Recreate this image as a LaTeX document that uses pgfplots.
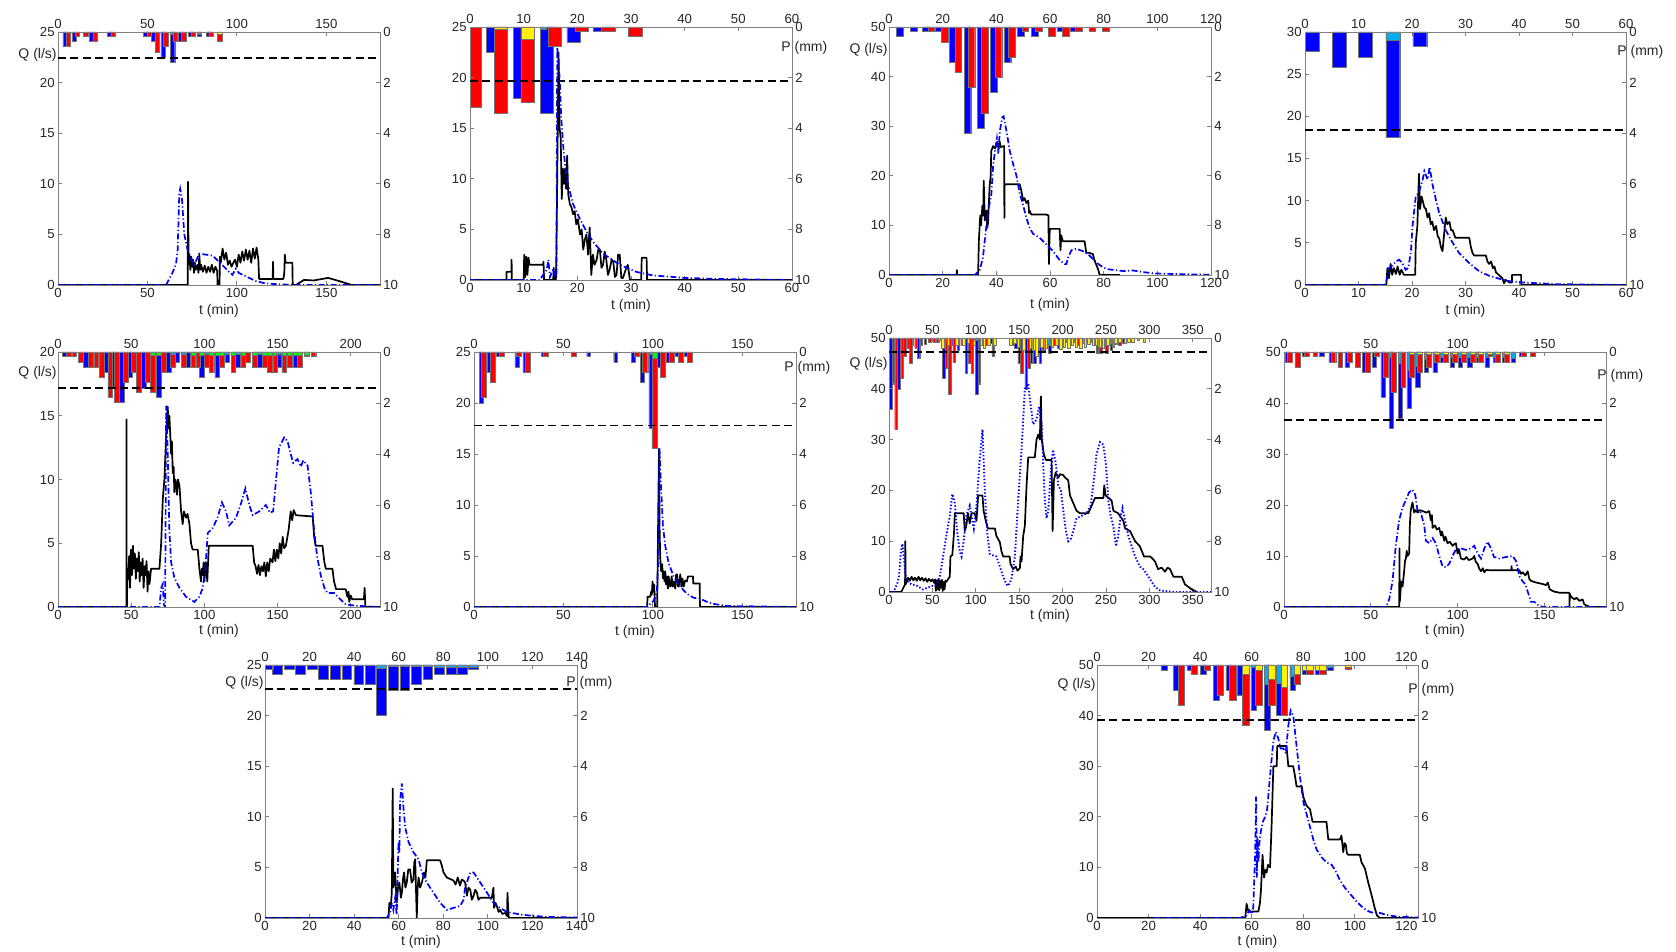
\documentclass[border=0pt]{standalone}
\usepackage{fontspec}
\setmainfont{Liberation Sans}
\usepackage{pgfplots}
\pgfplotsset{compat=1.18}
\pgfplotsset{
  base/.style={scale only axis, anchor=south west,
    axis line style={black!50, line width=0.4pt},
    tick style={black!50, line width=0.4pt}, major tick length=2pt, tick align=inside,
    ticklabel style={font=\fontsize{6.6}{7}\selectfont, text=black!85},
    /pgf/number format/assume math mode=true, scaled ticks=false,
    clip mode=individual, ymin=0,
    xticklabel style={inner sep=1.5pt}, yticklabel style={inner sep=1.5pt}},
  qaxis/.style={base, xtick pos=left, ytick pos=left},
  paxis/.style={base, xtick pos=right, ytick pos=right, ymax=10, y dir=reverse, ytick={0,2,...,10}},
  pb/.style={ybar, bar shift=0pt, draw=black!55, line width=0.2pt, forget plot},
  obs/.style={black, line width=0.85pt, line join=round},
  sim/.style={blue, line width=0.85pt, dash pattern=on 3pt off 1.2pt on 0.6pt off 1.2pt},
  simdot/.style={blue, line width=0.95pt, dash pattern=on 0.7pt off 1pt},
  dline/.style={black, line width=0.85pt, dash pattern=on 4pt off 2.2pt},
}
\tikzset{
  qlab/.style={anchor=east, font=\fontsize{7}{8}\selectfont, text=black!85, inner sep=0.5pt},
  plab/.style={anchor=west, font=\fontsize{7}{8}\selectfont, text=black!85, inner sep=0.5pt},
  tlab/.style={anchor=center, yshift=-13pt, font=\fontsize{7}{8}\selectfont, text=black!85},
}
\begin{document}
\begin{tikzpicture}
\useasboundingbox (0,0) rectangle (838pt,476pt);

% ================= Panel 1 =================
\begin{axis}[paxis, at={(29pt,333.5pt)}, width=161pt, height=126.5pt, xmin=0, xmax=180, xtick={0,50,100,150}]
\addplot[pb, fill=blue, bar width=2.5] coordinates {(4,0.57) (9,0.37) (18.7,0.37) (28.8,0.15) (49,0.15) (53.6,0.37) (58.8,1.0) (64,1.18) (68.7,0.37) (74,0.15) (79,0.15) (84,0.15)};
\addplot[pb, fill=red, bar width=2.5] coordinates {(5.8,0.57) (10.8,0.15) (15.5,0.15) (20.8,0.37) (30.8,0.15) (51,0.15) (55.5,0.79) (60.3,0.57) (65.5,0.37) (70.3,0.37) (75.5,0.15) (85.5,0.15) (90.3,0.37)};
\addplot[pb, fill=cyan, bar width=1.5] coordinates {(63.5,0.1) (79,0.1)};
\addplot[pb, fill=yellow, bar width=2.5] coordinates {(90.3,0.08)};
\end{axis}
\begin{axis}[qaxis, at={(29pt,333.5pt)}, width=161pt, height=126.5pt, xmin=0, xmax=180, ymax=25, xtick={0,50,100,150}, ytick={0,5,...,25}]
\addplot[dline] coordinates {(0,22.4) (180,22.4)};
\addplot[obs] coordinates {(0,0) (72.5,0) (72.7,10.2) (73,2) (73.5,3) (74,1.5) (74.5,2.8) (75,1.8) (75.5,2.5) (76,1.2) (76.5,2.2) (77,1.5) (78,2) (78.5,1.2) (79,3) (79.5,1.5) (80,2.0) (81,1.3) (82,1.9) (83,1.2) (84,1.8) (85,1.3) (86,2) (87,1.2) (88,1.8) (89,1.4) (89.2,0) (90.3,0) (90.5,2.8) (91,2.2) (92,3.6) (93,2.5) (94,3.2) (95,2) (96,2.4) (97,1.8) (98,2.2) (99,2.5) (100,1.8) (101,3) (102,2.2) (103,3.3) (104,2.4) (105,3.5) (106,2.5) (107,3.4) (108,2.2) (109,3.6) (110,2.6) (111,3.7) (112,2.5) (112.4,0.6) (120,0.6) (120.2,2.3) (120.4,0.6) (126,0.6) (126.5,1.2) (126.8,3) (127.2,2.2) (131,2.2) (131.2,0) (133,0) (137.5,0.5) (143,0.45) (151,0.7) (155,0.5) (160.6,0.2) (164.3,0) (180,0)};
\addplot[sim] coordinates {(0,0) (60.4,0) (62.2,0.6) (64,1.2) (66,2.1) (66.9,3.5) (67.8,9.0) (68.3,9.5) (69.3,8.5) (70.6,5) (72.4,3.5) (74.3,2.6) (76,2.0) (77.5,2.5) (78.9,3.1) (86.4,2.9) (90,2.3) (95.6,1.3) (97.5,1.0) (99.4,1.6) (101,1.2) (106.8,0.7) (110.5,0.4) (116,0.15) (125,0.05) (135,0) (180,0)};
\node[qlab] at (rel axis cs:0,0.909) {Q (l/s)};
\node[tlab] at (rel axis cs:0.5,0) {t (min)};
\end{axis}

% ================= Panel 2 =================
\begin{axis}[paxis, at={(235pt,336pt)}, width=161pt, height=126.5pt, xmin=0, xmax=60, xtick={0,10,...,60}]
\addplot[pb, fill=blue, bar width=1.4] coordinates {(3.8,0.99) (8.8,2.8)};
\addplot[pb, fill=blue, bar width=1.5] coordinates {(23.75,0.17)};
\addplot[pb, fill=blue, bar width=2.5] coordinates {(14.3,3.4) (19.3,0.59)};
\addplot[pb, fill=cyan, bar width=1.2] coordinates {(13.6,0.07)};
\addplot[pb, fill=red, bar width=2] coordinates {(1,3.18)};
\addplot[pb, fill=red, bar width=2.5] coordinates {(5.75,3.4) (10.75,2.99) (15.8,0.76) (20.8,0.17) (25.75,0.17) (30.8,0.36)};
\addplot[pb, fill=yellow, bar width=2.5] coordinates {(5.75,0.1) (10.75,0.49)};
\end{axis}
\begin{axis}[qaxis, at={(235pt,336pt)}, width=161pt, height=126.5pt, xmin=0, xmax=60, ymax=25, xtick={0,10,...,60}, ytick={0,5,...,25}]
\addplot[dline] coordinates {(0,19.67) (60,19.67)};
\addplot[obs] coordinates {(0,0) (6.8,0) (6.8,0.8) (7.7,0.8) (7.75,2) (7.8,0) (10,0) (10.1,2.5) (10.3,0.3) (10.5,2.3) (10.7,0.5) (10.9,2.2) (11.1,1.5) (13.6,1.5) (13.7,1.8) (13.8,0) (15.5,0) (15.6,1.2) (15.7,0) (16,0) (16.1,2.5) (16.5,22.5) (16.7,15) (16.9,14) (17.1,8) (17.3,11) (17.5,9.5) (17.7,11) (17.9,9) (18.1,12.3) (18.3,8.5) (18.6,7.5) (18.9,7.2) (19.2,6.5) (19.5,6.8) (19.8,5.5) (20.1,6) (20.5,4.5) (20.8,5) (21.1,3.0) (21.4,4) (21.7,4.5) (22,2.5) (22.3,5.2) (22.6,0.5) (22.9,2.5) (23.2,1.5) (23.6,2.0) (23.9,3) (24.2,3.0) (24.5,1.2) (24.8,1.5) (25.1,2.8) (25.4,2.0) (25.7,0.5) (26,1.0) (26.4,2.0) (26.7,1.8) (27,0.3) (27.3,0.5) (27.6,2.5) (27.9,2.5) (28.2,0.2) (28.5,0.2) (29,1.0) (29.4,1.5) (29.8,0) (31.9,0) (32,2.2) (32.9,2.2) (33,0) (60,0)};
\addplot[sim] coordinates {(0,0) (13,0) (13.6,0.5) (14.3,1.0) (14.6,2.0) (14.9,0.3) (15.5,1.1) (15.8,0.2) (16.1,0.3) (16.25,23) (16.7,20) (17,16) (17.4,13) (18,10) (19.2,7.5) (20.5,6) (21.7,4.8) (22.9,3.8) (24.8,2.6) (27.9,1.5) (31,0.8) (34.1,0.45) (40.3,0.2) (46.5,0.1) (60,0)};
\node[plab, xshift=-6pt] at (rel axis cs:1,0.917) {P (mm)};
\node[tlab] at (rel axis cs:0.5,0) {t (min)};
\end{axis}

% ================= Panel 3 =================
\begin{axis}[paxis, at={(444.5pt,338.5pt)}, width=161pt, height=124pt, xmin=0, xmax=120, xtick={0,20,...,120}]
\addplot[pb, fill=blue, bar width=2.5] coordinates {(3.9,0.36) (9.2,0.17) (13.7,0.17) (18.6,0.17) (23.7,1.41) (29.2,4.27) (34.2,4.07) (39.1,2.63) (44.1,1.41) (49.1,0.36) (54.2,0.36) (63.8,0.17) (68.9,0.17)};
\addplot[pb, fill=red, bar width=2.5] coordinates {(15.75,0.17) (20.75,0.6) (25.75,1.81) (30.7,2.44) (35.75,3.46) (40.75,2.04) (45.75,1.21) (50.7,0.17) (55.75,0.17) (60.75,0.36) (65.75,0.36) (70.75,0.17) (75.75,0.17) (80.75,0.17)};
\end{axis}
\begin{axis}[qaxis, at={(444.5pt,338.5pt)}, width=161pt, height=124pt, xmin=0, xmax=120, ymax=50, xtick={0,20,...,120}, ytick={0,10,...,50}]
\addplot[obs] coordinates {(0,0) (25.2,0) (25.3,1) (25.4,0) (33.2,0) (33.5,7) (34,12) (34.3,10) (34.8,14) (35.1,12) (35.3,19) (35.7,11) (36.3,13) (36.6,9.5) (36.9,10.5) (37.5,18) (37.9,20) (38.1,25) (38.8,26) (39.5,25.5) (40.3,26.5) (40.9,25.5) (41.2,27) (41.6,25.8) (42.9,26) (43,11.5) (43.1,18.3) (48.7,18.3) (49.3,17) (50,15) (50.5,15.5) (51.2,14.5) (51.9,15) (52.2,12.5) (52.4,13) (53,12.2) (58.6,12.2) (59.4,12) (59.6,2.2) (59.9,9.3) (63.6,9.3) (63.9,5) (64.2,8) (64.8,6.8) (72.9,6.8) (73.5,4.5) (74.5,4.5) (76,4.2) (76.5,3) (77.3,2) (78,1) (78.5,0) (86,0)};
\addplot[sim] coordinates {(0,0) (32,0) (33.8,1) (35,3.5) (36.3,10) (36.9,13) (38.1,16) (38.8,22) (39.6,25.5) (40.2,27.5) (40.7,24.5) (41.3,29) (42.2,31.8) (42.7,32) (43.8,29) (45,25) (46.2,22.5) (47.5,20) (48.7,16.5) (50,14) (51.2,11.5) (52.4,9.5) (53.7,8.3) (56.1,7.5) (58.6,6.2) (61.1,4.8) (63.6,3.0) (65.5,2.2) (66.1,2.2) (66.7,3.5) (68,5.0) (69.8,5.3) (72.3,4.8) (74.2,4.2) (76,3.2) (78.5,2.0) (81,1.2) (87.2,0.8) (91,0.9) (95.9,0.5) (99.6,0.3) (105.8,0.2) (120,0.05)};
\node[qlab] at (rel axis cs:0,0.907) {Q (l/s)};
\node[tlab, yshift=-2pt] at (rel axis cs:0.5,0) {t (min)};
\end{axis}

% ================= Panel 4 =================
\begin{axis}[paxis, at={(652.5pt,333.5pt)}, width=160.5pt, height=126.5pt, xmin=0, xmax=60, xtick={0,10,...,60}]
\addplot[pb, fill=blue, bar width=2.6] coordinates {(1.3,0.76) (6.4,1.38) (11.3,0.99) (16.4,4.17) (21.45,0.57)};
\addplot[pb, fill=cyan, bar width=2.6] coordinates {(16.4,0.33)};
\end{axis}
\begin{axis}[qaxis, at={(652.5pt,333.5pt)}, width=160.5pt, height=126.5pt, xmin=0, xmax=60, ymax=30, xtick={0,10,...,60}, ytick={0,5,...,30}]
\addplot[dline] coordinates {(0,18.36) (60,18.36)};
\addplot[obs] coordinates {(0,0) (15.2,0) (15.4,2) (15.7,0.8) (16,2.5) (16.3,1.2) (16.6,2) (17,1.3) (17.3,2.2) (17.7,1.2) (18,1.8) (18.5,1.2) (20.6,1.2) (20.7,5) (21,7) (21.3,13.2) (21.5,9) (21.8,10.5) (22,10) (22.3,9.2) (22.6,9) (22.9,8) (23.2,8.5) (23.5,7.2) (23.8,7.5) (24.1,6.5) (24.5,7) (24.8,5.8) (25.1,5.5) (25.4,4.5) (25.7,4) (26,6) (26.3,8) (26.6,7.2) (27,7.5) (27.3,6.5) (27.6,6.5) (28.1,5.6) (30.7,5.6) (31,4.5) (31.3,3.8) (31.6,3.5) (33.8,3.5) (34.1,2.8) (34.4,2.5) (34.8,2.8) (35.1,2) (35.4,2.2) (35.7,1.5) (36.2,1.2) (36.9,0.8) (37.2,0.2) (37.5,0.6) (38.2,0.3) (38.7,0.3) (38.7,1.2) (40.4,1.2) (40.4,0) (60,0)};
\addplot[sim] coordinates {(0,0) (15,0) (15.4,1.0) (15.7,2.0) (16.3,2.3) (17,2.8) (17.6,3.0) (18.2,2.6) (18.8,1.8) (19.3,2.0) (19.8,4) (20.1,7) (20.7,10.5) (21.3,11) (22,12.5) (22.3,13.5) (22.6,13) (22.9,12.5) (23.3,14) (23.8,12) (24.5,10) (25.1,8.5) (26.3,6.5) (27.6,5) (28.8,3.8) (30.7,2.6) (32.6,1.6) (34.4,1.1) (37.6,0.5) (40.7,0.3) (46.9,0.1) (60,0)};
\node[plab, xshift=-5pt] at (rel axis cs:1,0.921) {P (mm)};
\node[tlab] at (rel axis cs:0.5,0) {t (min)};
\end{axis}

% ================= Panel 5 =================
\begin{axis}[paxis, at={(29pt,172.5pt)}, width=161pt, height=127.5pt, xmin=0, xmax=220, xtick={0,50,...,200}]
\addplot[pb, fill=blue, bar width=3.2] coordinates {(4.5,0.17) (19,0.59) (33,0.79) (38.6,1.42) (43.7,1.98) (49,1.0) (58.4,1.42) (68.7,1.78) (75.5,0.79) (81.5,0.39) (89,0.59) (98.3,1.0) (108.8,1.0) (115.5,0.39) (123,0.59) (138,0.59) (151,0.59) (162,0.59) (170,0.17)};
\addplot[pb, fill=red, bar width=3.2] coordinates {(7.5,0.17) (11,0.17) (15.5,0.39) (22.5,0.59) (26,0.59) (29.8,1.0) (35.7,1.78) (40.3,1.98) (46.2,1.18) (51.7,0.79) (55,1.59) (61.2,1.18) (64.7,1.59) (72.2,0.79) (78.5,0.59) (85.7,0.59) (92.5,0.59) (95.3,0.59) (101.7,0.59) (104.8,0.79) (112,0.59) (119.8,0.79) (126.5,0.59) (129.5,0.39) (134.5,0.59) (141.3,0.59) (144.8,0.79) (148.3,0.79) (154.5,0.79) (158.3,0.59) (165.3,0.59) (174.5,0.17)};
\addplot[pb, fill=green, bar width=3.2] coordinates {(64.7,0.12) (68.7,0.12) (92.5,0.12) (98.3,0.12) (104.8,0.12) (108.8,0.12) (112,0.12) (119.8,0.12) (126.5,0.12) (134.5,0.12) (141.3,0.12) (144.8,0.12) (148.3,0.12) (154.5,0.12) (158.3,0.12) (162,0.12) (165.3,0.12) (170,0.12)};
\addplot[pb, fill=cyan, bar width=3.2] coordinates {(78.5,0.1) (85.7,0.1) (101.7,0.1) (115.5,0.1) (123,0.1) (138,0.1) (151,0.1)};
\end{axis}
\begin{axis}[qaxis, at={(29pt,172.5pt)}, width=161pt, height=127.5pt, xmin=0, xmax=220, ymax=20, xtick={0,50,...,200}, ytick={0,5,...,20}]
\addplot[dline] coordinates {(0,17.17) (220,17.17)};
\addplot[obs] coordinates {(0,0) (46.7,0) (46.8,14.7) (46.9,0) (47.2,0) (47.3,3) (48,2.2) (48.6,4) (49.2,1.5) (49.8,4.5) (50.5,2.5) (51.2,4.8) (51.8,3) (52.5,4.2) (53.2,2.2) (53.8,3.8) (54.5,2.8) (55.2,4.3) (55.8,2) (56.5,3.5) (57.2,2.5) (57.8,3.8) (58.5,1.5) (59.2,3.2) (59.8,2.5) (60.5,3.6) (61.2,1.2) (61.8,2.8) (62.5,1.8) (63.6,3) (69.3,3) (70.5,5) (71.6,8.5) (72.7,10) (73.9,13.5) (75,15.7) (75.5,14) (76.1,15) (76.7,13.5) (77.3,12) (77.8,13) (78.4,10.5) (79,11) (79.5,9) (80.1,10) (80.7,9.8) (81.3,8.8) (82,10) (83,9.5) (84.1,7.5) (85.2,6.5) (86,7.5) (87.5,7) (88.5,7.3) (89.8,6.5) (90.9,5) (92,4.5) (95.5,4.5) (96.6,3) (97.7,2) (98.3,3) (98.9,2.5) (99.5,3.5) (100,2.0) (101,3.5) (102,2) (103,4.8) (133,4.8) (134,3.5) (135,3.2) (136,2.6) (137,3.3) (138,2.5) (139,3.2) (140,2.8) (141,3.5) (142,2.4) (143,3.5) (144,2.8) (145,3.8) (146.6,3.5) (147.5,4.5) (148.5,3.6) (149.5,4.5) (150.5,3.8) (151.5,5) (152.5,4.2) (153.5,5.5) (154.5,4.6) (155.7,4.8) (157.5,6) (159,7.5) (160,6.8) (161,7.6) (162.5,7.2) (174,7.1) (175,5.5) (176,4.8) (180.7,4.8) (182,3.5) (183,3) (187.5,3) (188.6,2) (190,1.4) (196.6,1.4) (197.7,0.8) (198.5,1.2) (199,0.4) (200,0.9) (201,0.6) (209,0.6) (209.5,1.5) (210,0) (220,0)};
\addplot[sim] coordinates {(0,0) (69.3,0) (70.5,1.5) (71.6,1.8) (72.3,0.2) (73.2,0) (73.9,15.8) (75,12) (76.1,6) (77.3,3.5) (79.5,2.3) (83,1.5) (87.5,0.8) (93.2,0.4) (96.6,0.8) (98.9,1.5) (100.7,3) (102.3,5.8) (105.7,6.2) (109,7) (112,8.2) (114.8,7.5) (117,6.4) (121.6,7) (125,8.1) (128,9.3) (130.7,8) (133,7.2) (137.5,7.5) (142,8) (144.8,7.4) (147,7.5) (149,10) (151,12.5) (154.5,13.3) (156.8,13) (159,12) (160.7,11.3) (163.6,11.6) (166,11) (167.5,11.5) (170.5,11.1) (172.7,9) (175,6) (177,4) (179.5,2.5) (182,1.5) (184,1.1) (188.6,1.1) (192,0.7) (196.6,0.2) (203.4,0.1) (220,0)};
\node[qlab] at (rel axis cs:0,0.918) {Q (l/s)};
\node[tlab, yshift=1pt] at (rel axis cs:0.5,0) {t (min)};
\end{axis}

% ================= Panel 6 =================
\begin{axis}[paxis, at={(237pt,172.5pt)}, width=161pt, height=127.5pt, xmin=0, xmax=180, xtick={0,50,100,150}]
\addplot[pb, fill=blue, bar width=2.2] coordinates {(3.9,2.0) (8.55,0.79) (13.65,0.17) (24,0.59) (28.4,0.79) (38.7,0.17) (64.1,0.17) (79.2,0.39) (88.9,0.39) (94.1,1.18) (98.8,2.99) (103.35,0.59) (108.8,0.39) (113.55,0.17) (118.85,0.17)};
\addplot[pb, fill=red, bar width=2.8] coordinates {(5.5,1.78) (10.65,1.18) (15.6,0.17) (25.25,0.17) (30.1,0.79) (40.3,0.17) (55.8,0.17) (90.75,0.17) (95.7,0.79) (100.8,3.78) (105.7,1.0) (110.4,0.39) (115.8,0.39) (120.6,0.39)};
\addplot[pb, fill=cyan, bar width=2] coordinates {(98.8,0.08)};
\addplot[pb, fill=green, bar width=2.8] coordinates {(100.8,0.26)};
\end{axis}
\begin{axis}[qaxis, at={(237pt,172.5pt)}, width=161pt, height=127.5pt, xmin=0, xmax=180, ymax=25, xtick={0,50,100,150}, ytick={0,5,...,25}]
\addplot[dline] coordinates {(0,17.8) (180,17.8)};
\addplot[obs] coordinates {(0,0) (96.8,0) (97,1) (98.5,1) (99,1.5) (99.4,1.2) (99.8,2.5) (100.2,1.5) (100.7,2.2) (101.2,0) (102.4,0) (102.6,3) (103,9.5) (103.4,15.5) (103.8,7) (104.2,4.5) (104.6,3.5) (105.2,4.2) (105.6,2.8) (106,3.5) (106.5,2.5) (106.9,3.5) (107.4,2.2) (107.9,3.0) (108.4,1.8) (108.8,3.0) (109.3,2.2) (109.7,2.0) (110.5,3) (111,2) (111.6,2.5) (112.5,1.8) (113,3.2) (113.5,3.2) (114,2) (114.4,2) (115.3,3.2) (116,2) (116.5,2.8) (117.2,2.0) (118,2.6) (119,2.5) (119.6,3) (122.4,3) (122.6,2.3) (126.2,2.3) (126.3,0) (180,0)};
\addplot[sim] coordinates {(0,0) (96.6,0) (98.5,0.3) (100.4,0.6) (102.2,1.5) (103.2,5) (103.7,15.6) (104.5,12) (105.6,8) (106.9,6) (108.8,4.3) (111.6,3) (115.3,2) (119,1.3) (122.8,0.9) (126.5,0.8) (130.3,0.5) (134,0.3) (141.5,0.1) (180,0)};
\node[plab, xshift=-6.5pt] at (rel axis cs:1,0.937) {P (mm)};
\node[tlab, yshift=0.5pt] at (rel axis cs:0.5,0) {t (min)};
\end{axis}

% ================= Panel 7 =================
\begin{axis}[paxis, at={(444.5pt,180pt)}, width=161pt, height=127pt, xmin=0, xmax=371, xtick={0,50,...,350}]
\addplot[pb, fill=blue, bar width=2.8] coordinates {(2,2.8) (11,2.0) (27,0.3) (34,0.8) (42,0.25) (63,1.6) (72,0.3) (80,0.5) (89,1.4) (101,2.2) (108,0.3) (118,0.2) (146,0.4) (150,1.0) (158,2.0) (164,1.0) (168,1.0) (174,1.0) (185,0.6) (195,0.4) (205,0.15) (222,0.2) (248,0.35) (256,0.5) (270,0.2)};
\addplot[pb, fill=red, bar width=2.8] coordinates {(5,1.8) (8,3.6) (15,1.6) (18,0.7) (22,0.4) (25,1.0) (31,0.4) (37,0.3) (47,0.15) (52,0.15) (56,0.15) (66,1.2) (70,2.2) (75,0.96) (84,0.3) (93,1.0) (96,1.4) (104,1.8) (112,0.3) (120,0.7) (143,0.3) (153,1.4) (161,1.2) (171,0.5) (178,0.5) (190,0.3) (212,0.15) (218,0.3) (232,0.15) (240,0.6) (244,0.6) (251,0.6) (262,0.25) (266,0.3)};
\addplot[pb, fill=yellow, bar width=2.8] coordinates {(58,0.1) (62,0.4) (68,0.3) (78,0.3) (86,0.3) (91,0.2) (98,0.3) (106,0.3) (110,0.4) (115,0.3) (122,0.3) (140,0.3) (145,0.2) (149,0.35) (155,0.5) (163,0.4) (167,0.5) (170,0.7) (176,0.35) (181,0.4) (188,0.35) (193,0.3) (198,0.45) (202,0.35) (207,0.4) (211,0.3) (216,0.35) (221,0.4) (226,0.35) (230,0.25) (235,0.3) (239,0.3) (243,0.35) (247,0.4) (252,0.3) (257,0.2) (261,0.2) (266,0.15) (272,0.2) (276,0.15) (281,0.15) (287,0.1) (294,0.15)};
\addplot[pb, fill=cyan, bar width=2.8] coordinates {(184,0.3) (258,0.35) (100,0.1)};
\end{axis}
\begin{axis}[qaxis, at={(444.5pt,180pt)}, width=161pt, height=127pt, xmin=0, xmax=371, ymax=50, xtick={0,50,...,350}, ytick={0,10,...,50}]
\addplot[dline] coordinates {(0,47.2) (371,47.2)};
\addplot[obs] coordinates {(0,0) (14,0) (15,0.3) (17,1) (18.5,1.5) (18.8,10) (19.2,1.5) (20,2) (22,2.8) (24,2.2) (26,3) (28,2.3) (30,2.8) (32,2.2) (34,3) (36,2.3) (38,2.8) (40,2.2) (42,2.7) (44,2.0) (46,2.6) (48,2.1) (50,2.5) (52,1.8) (53,2.5) (54,0.2) (55,2.3) (56,0.5) (57,2.6) (58,0.3) (59,2.2) (60,0.8) (61,2.4) (62,0.2) (63,2) (64,0.5) (65,2.2) (66,2) (70,3) (70.8,7) (73,7.3) (75,12) (75.8,15.5) (86,15.5) (87.3,12) (89,13) (91,15.5) (93,13.5) (95,15.5) (98.8,15.5) (100.8,14) (102.7,19) (107.7,19) (109,16) (111.5,14) (114,12.5) (122,12.5) (123.8,11) (127.7,9.8) (129.6,8) (131.5,7) (139,7) (140,5.5) (143,4.5) (146,5) (148,4.2) (150.8,4.7) (151.5,7) (152.7,6) (154.6,11) (156.5,13) (158.5,21) (160.4,26.5) (168,26.5) (170,30) (172,31) (173.8,30) (175,38.5) (176,30) (178.5,27) (180.8,26) (187.3,26) (188.5,12) (190,22) (192,23.5) (195,22.5) (197,23.2) (200.8,23) (203,22.5) (206.5,22) (208.5,19) (212.3,17.5) (216,16) (220,15.5) (229.6,15.5) (233.5,17) (237.3,18.5) (247,18.5) (248,21) (249.6,19) (253,18.5) (256.5,18) (258.5,16) (264,15.5) (270,14) (272,12.5) (277.7,12) (283.5,10) (289,9) (293.8,7) (300.8,7) (304,6.5) (306.5,6) (310,4.5) (314,4.8) (318,4) (321,4.8) (323.8,4.5) (327.7,3) (337.3,3) (341,1.5) (345,1.0) (348.8,0.5) (352.7,0.2) (355,0)};
\addplot[simdot] coordinates {(0,0) (5,0) (6.5,0.5) (9.2,1.5) (11.5,3) (13.5,7.5) (15.4,9.5) (17,7) (19.2,3) (22,2) (25.8,1.5) (31.5,1.3) (39,0.5) (47,1.0) (54.6,1.5) (58.5,3) (62.3,7) (66,11) (70,15) (73,19.3) (75.8,17.5) (78.5,12) (81.5,8) (83.5,7) (86,10) (89,15) (93,17) (95,15) (97.7,12.5) (100.8,17) (104,25) (107.7,32) (110.4,20) (113,12) (116,7.5) (120,7.2) (123.8,7) (127.7,5) (131.5,3) (135.4,1.5) (137.3,1.2) (141,2.5) (145,7) (148.8,18) (152.7,28) (156.5,40) (160.4,41) (162.3,38) (166,33) (170,34) (173,36.5) (175.8,33) (177.7,25) (179.6,18) (181.5,14.5) (183.5,16) (186.5,24) (189,28) (192,25.5) (195,21) (198,20) (200.8,16) (203.8,12) (206.5,10) (209.6,10.5) (212.3,12) (216,14.5) (222,15) (227.7,15.5) (232.3,17) (236,22) (239,27) (243,29.5) (247,29) (250,25) (252.7,18) (255.4,15) (258.5,13) (261.5,9) (264,11) (267,15) (269,16.5) (272,14) (275.8,11) (279.6,9) (283.5,7) (289,5) (293,4.5) (297,3.5) (302.7,2) (306.5,1) (312.3,0.3) (327.7,0) (371,0)};
\node[qlab] at (rel axis cs:0,0.90) {Q (l/s)};
\node[tlab, yshift=1pt] at (rel axis cs:0.5,0) {t (min)};
\end{axis}

% ================= Panel 8 =================
\begin{axis}[paxis, at={(642pt,172.5pt)}, width=161pt, height=127.5pt, xmin=0, xmax=185.5, xtick={0,50,100,150}]
\addplot[pb, fill=blue, bar width=2.5] coordinates {(1.75,0.39) (11.5,0.17) (21.8,0.17) (27.1,0.39) (36.3,0.59) (46.3,0.79) (51.9,0.59) (57,1.78) (61.8,2.99) (67,2.6) (72,2.2) (77,1.39) (82,0.79) (87,0.79) (91.5,0.39) (96.8,0.59) (101.6,0.59) (107,0.59) (111.7,0.39) (117,0.59) (122,0.39) (127.1,0.39) (132,0.39) (137,0.17)};
\addplot[pb, fill=cyan, bar width=2.5] coordinates {(61.8,0.2) (67,0.43) (72,0.7) (77,0.56) (82,0.3) (87,0.25) (91.5,0.2) (96.8,0.2) (101.6,0.2) (107,0.2) (111.7,0.2) (117,0.2) (122,0.2) (127.1,0.2) (132,0.24)};
\addplot[pb, fill=red, bar width=2.8] coordinates {(3.3,0.39) (7.7,0.59) (13.3,0.17) (18,0.17) (28.4,0.39) (32.4,0.59) (38,0.39) (42.5,0.59) (48,0.79) (53.5,0.17) (58.5,1.0) (63,1.59) (68.7,1.39) (73.5,1.0) (78.4,0.79) (83.3,0.59) (88,0.39) (93.2,0.39) (98.5,0.39) (103.5,0.39) (108.5,0.39) (113.5,0.39) (118.5,0.17) (123.3,0.39) (128.5,0.39) (138.3,0.17) (143.5,0.17)};
\addplot[pb, fill=yellow, bar width=2.8] coordinates {(73.5,0.07) (78.4,0.07) (83.3,0.07) (88,0.07) (93.2,0.07) (98.5,0.07) (103.5,0.07) (108.5,0.07) (113.5,0.07) (118.5,0.07) (123.3,0.07) (128.5,0.07)};
\end{axis}
\begin{axis}[qaxis, at={(642pt,172.5pt)}, width=161pt, height=127.5pt, xmin=0, xmax=185.5, ymax=50, xtick={0,50,100,150}, ytick={0,10,...,50}]
\addplot[dline] coordinates {(0,36.6) (185.5,36.6)};
\addplot[obs] coordinates {(0,0) (66.4,0) (66.5,11.5) (66.7,1) (67.2,3.5) (67.7,5) (68.3,4) (69.2,7) (69.7,9) (70.2,9.5) (70.7,11) (71.2,10) (72.1,10.5) (72.5,16) (73,19) (74,20.5) (75,18.5) (76,19) (77,18.5) (78,19) (80,18.8) (82,18.5) (83.7,18.8) (84.6,17) (85.2,18) (85.6,15.5) (87,16) (88,15.2) (89.4,15.5) (90.4,14) (91,14.8) (92.3,13) (93,13.8) (94.2,12.5) (95.5,12.8) (97.1,12) (98,12.3) (99,12.5) (100,10.5) (100.8,11.3) (101.9,9.5) (103.8,9.3) (105,9.8) (106.5,9.2) (108.7,9.5) (109.6,10) (110.5,8.8) (111.5,8.5) (112.5,7.5) (113.5,7) (114.5,7.6) (115.4,6.8) (116.5,7.3) (118.3,7.2) (131,7.2) (131.1,8) (131.2,7.2) (135.6,7.2) (136.5,6.5) (137.5,6.8) (139,6.2) (140.4,7) (141.3,5.5) (142,5.2) (143.3,5) (145.2,4.8) (149,4.5) (151,4.3) (152,4.8) (153,3.5) (154.5,3.2) (155.8,3) (158.7,2.8) (164.4,2.8) (164.5,0) (164.6,2.6) (165.4,2) (167.3,1.5) (168.5,1.8) (170.2,1.2) (172,1.5) (173,0.5) (175,0.2) (176,0) (185.5,0)};
\addplot[sim] coordinates {(0,0) (58.7,0) (60.6,1.5) (62.5,5) (64.4,12) (66.3,17) (68.3,19.5) (70.2,21) (72.1,22.5) (74,23) (75.6,22) (76.9,19) (78.8,18.5) (80.8,16) (81.7,13) (83.7,12.5) (85.6,13.5) (87.5,12.5) (89.4,10) (91.3,8) (93.3,7.8) (95.2,8.5) (97.1,10) (99,11.3) (101.9,11.5) (104.8,11.2) (107.7,11.5) (109.6,12) (111.5,10.5) (113.5,9.5) (115.4,11.5) (117.3,12.8) (119.2,11.5) (121,9.8) (124,9.5) (127.9,9.8) (131.7,10) (133.7,9) (135.6,6) (137.5,5) (139,4.5) (140.4,3) (142.3,1) (144.2,1.0) (146.2,0.4) (149,0) (185.5,0)};
\node[plab, xshift=-5pt] at (rel axis cs:1,0.906) {P (mm)};
\node[tlab, yshift=1pt] at (rel axis cs:0.5,0) {t (min)};
\end{axis}

% ================= Panel 9 =================
\begin{axis}[paxis, at={(132.5pt,17pt)}, width=156pt, height=126.5pt, xmin=0, xmax=140, xtick={0,20,...,140}]
\addplot[pb, fill=blue, bar width=4.3] coordinates {(1.5,0.17) (5.6,0.37) (10.8,0.17) (15.9,0.37) (21.1,0.17) (26.2,0.57) (31.6,0.57) (36.6,0.57) (42,0.76) (47.1,0.76) (52.2,1.97) (57.6,0.99) (62.7,0.99) (67.8,0.76) (73,0.57) (78.2,0.37) (83.5,0.37) (88.5,0.37) (93.5,0.17)};
\addplot[pb, fill=cyan, bar width=4.3] coordinates {(52.2,0.13) (57.6,0.04) (62.7,0.04) (67.8,0.04) (73,0.04) (78.2,0.07) (83.5,0.07) (88.5,0.07) (93.5,0.07)};
\end{axis}
\begin{axis}[qaxis, at={(132.5pt,17pt)}, width=156pt, height=126.5pt, xmin=0, xmax=140, ymax=25, xtick={0,20,...,140}, ytick={0,5,...,25}]
\addplot[dline] coordinates {(0,22.63) (140,22.63)};
\addplot[obs] coordinates {(0,0) (55.4,0) (55.8,1.5) (56.4,1) (56.9,2.5) (57.3,12.8) (57.6,3) (58.4,4.5) (59.1,1.5) (59.7,3) (60.3,3.5) (61,2) (61.4,2.5) (62,4) (62.4,4.5) (63,3) (63.6,3.5) (64.3,4.8) (65.1,4.8) (65.8,3.5) (66.6,3.8) (67,5.5) (67.4,5.8) (68.1,0) (68.5,3) (68.9,4) (69.6,3) (70.4,3.5) (71.4,4.5) (72,4) (72.6,5.7) (78.6,5.7) (79.3,5.2) (80.1,4.5) (81,4.2) (81.6,4.0) (84.6,3.7) (85.5,3.3) (86.5,4) (87.5,3.2) (88.3,3.8) (89.1,3.7) (89.8,3.5) (90.6,2.2) (91.3,3) (92.1,2.8) (92.8,1.8) (93.6,2.2) (94.3,2.8) (95.1,2.5) (95.8,1.8) (96.6,2) (101.8,2) (102.5,3) (102.8,1) (103.4,1.5) (104,1.2) (104.8,0.6) (105.5,0.8) (106.5,0.4) (107.8,0.5) (108.6,0.2) (108.8,2.5) (109.3,0.1) (110,0) (140,0)};
\addplot[sim] coordinates {(0,0) (54.6,0) (56.1,0.5) (56.9,1.5) (57.6,0.8) (58.4,2) (59.1,0.3) (59.9,7.5) (60.3,6.5) (60.6,11.5) (61.4,13.3) (62.1,11) (62.9,9) (64.4,7.5) (66.6,6.5) (68.9,5.8) (70.4,4.5) (72.6,3.5) (75.6,2.5) (78.6,1.5) (81.6,0.8) (84.6,1.0) (87.6,1.2) (89.1,1.8) (89.8,3) (92.1,4.5) (93.6,4.5) (96.6,3.5) (99.6,2.5) (102.5,1.5) (105.5,1.0) (108.5,0.6) (114.5,0.35) (120.5,0.2) (128,0.1) (140,0.05)};
\node[qlab] at (rel axis cs:0,0.929) {Q (l/s)};
\node[plab, xshift=-6pt] at (rel axis cs:1,0.929) {P (mm)};
\node[tlab, yshift=1pt] at (rel axis cs:0.5,0) {t (min)};
\end{axis}

% ================= Panel 10 =================
\begin{axis}[paxis, at={(548.5pt,17pt)}, width=160.5pt, height=126.5pt, xmin=0, xmax=124.5, xtick={0,20,...,120}]
\addplot[pb, fill=blue, bar width=2.2] coordinates {(26.1,0.2) (30.75,0.99) (35.95,0.2) (41.1,0.37) (46.15,1.38) (51.1,0.99) (55.65,1.18) (60.8,1.78) (65.95,2.57) (70.65,1.97) (75.9,0.99) (80.6,0.37) (85.55,0.37) (90.55,0.2)};
\addplot[pb, fill=cyan, bar width=2.2] coordinates {(60.8,0.1) (65.95,0.76) (70.65,0.72) (75.9,0.46) (90.55,0.1)};
\addplot[pb, fill=yellow, bar width=2.2] coordinates {(80.6,0.2) (85.55,0.2)};
\addplot[pb, fill=red, bar width=2.5] coordinates {(32.7,1.58) (37.7,0.37) (42.7,0.2) (47.75,1.18) (52.65,1.38) (57.7,2.39) (62.75,1.58) (67.75,1.58) (72.65,1.97) (77.55,0.76) (82.45,0.37) (87.55,0.37) (97.4,0.17)};
\addplot[pb, fill=yellow, bar width=2.5] coordinates {(57.7,0.37) (62.75,0.2) (67.75,0.57) (72.65,0.88) (77.55,0.37) (82.45,0.2) (87.55,0.2) (97.4,0.1)};
\end{axis}
\begin{axis}[qaxis, at={(548.5pt,17pt)}, width=160.5pt, height=126.5pt, xmin=0, xmax=124.5, ymax=50, xtick={0,20,...,120}, ytick={0,10,...,50}]
\addplot[dline] coordinates {(0,39.1) (124.5,39.1)};
\addplot[obs] coordinates {(0,0) (57.4,0) (57.6,0.5) (58,2.8) (58.7,1.3) (62.6,1.3) (63.2,3) (63.6,5.5) (64.2,12.5) (64.8,8) (65.3,9.5) (65.8,9) (66.3,10.5) (67.1,10) (67.7,18) (68.4,30) (69.7,30) (69.9,34) (73.5,34) (74.2,30) (76.1,30) (76.8,28) (77.4,26) (79.4,26) (80,24) (81,22.5) (81.6,22) (82.6,21.5) (83.6,19) (89,19) (89.7,15.5) (94.2,15.5) (94.8,16.3) (95.5,13) (96,14.8) (96.5,14.5) (96.9,12.8) (97.4,12.5) (101.9,12.5) (102.6,11) (103.9,9.8) (105.2,7) (106.5,4.5) (107.7,2) (108.6,0.5) (109.7,0) (124.5,0)};
\addplot[sim] coordinates {(22,0) (55.5,0) (56.8,0.3) (58,0.5) (59.1,1.5) (60,0.8) (60.6,2) (61,8) (61.3,12) (61.7,24) (62,8) (62.2,16) (62.6,11) (63,15) (63.5,17) (64.3,19) (65.2,20) (66,21.5) (67.1,28) (68.4,35) (69.4,36.8) (70.3,35.5) (71.2,33.5) (72.3,33.5) (73.2,32.5) (74.2,38) (75.1,41) (76.1,40) (77.4,34) (78.7,28) (80,23) (81.3,20.5) (82.6,18) (83.9,15.5) (85.2,13.5) (87.1,12) (89,11) (91,10.5) (92.3,9.5) (94.2,7.5) (96.1,6) (98.1,4.8) (100.6,3.3) (103.2,2) (105.8,1.2) (108.4,0.9) (109.7,1.0) (112.3,0.6) (116.1,0.3) (120,0.2) (124.5,0.1)};
\node[qlab] at (rel axis cs:0,0.921) {Q (l/s)};
\node[plab, xshift=-5.5pt] at (rel axis cs:1,0.90) {P (mm)};
\node[tlab, yshift=1pt] at (rel axis cs:0.5,0) {t (min)};
\end{axis}
\end{tikzpicture}
\end{document}
